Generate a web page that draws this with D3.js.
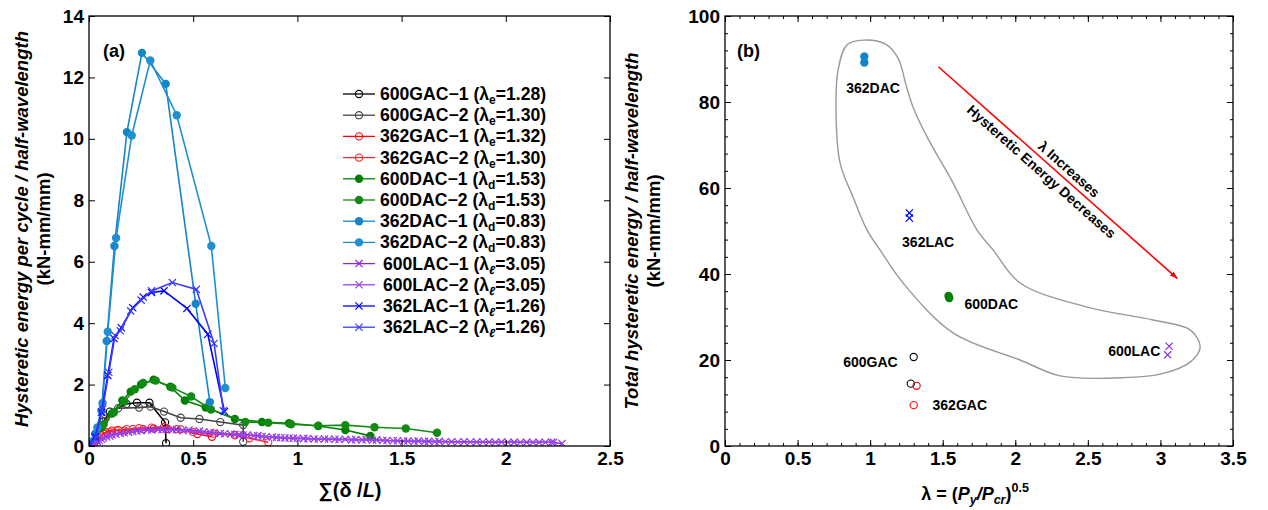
<!DOCTYPE html>
<html>
<head>
<meta charset="utf-8">
<script src="https://cdn.jsdelivr.net/npm/d3@7"></script>
<style>
    body { margin: 0; background: #fff; }
    text { font-family: "Liberation Sans", Arial, sans-serif; font-weight: bold; fill: #000; }
</style>
</head>
<body>
<svg id="chart" width="1268" height="510"></svg>
<script>
// ---- panel (a) data: [sum(delta/L), energy per cycle] ----
const gac600_1 = [[0,0],[0.03,0.2],[0.07,0.8],[0.1,1.12],[0.18,1.37],[0.23,1.41],[0.29,1.41],[0.365,0.77],[0.37,0.09]];
const gac600_2 = [[0,0],[0.04,0.3],[0.08,0.9],[0.14,1.23],[0.24,1.25],[0.295,1.28],[0.36,1.12],[0.44,0.92],[0.53,0.88],[0.63,0.78],[0.74,0.68],[0.74,0.14]];
const gac362_1 = [[0,0],[0.03,0.15],[0.06,0.35],[0.08,0.45],[0.11,0.5],[0.14,0.52],[0.17,0.5],[0.21,0.55],[0.26,0.55],[0.31,0.57],[0.38,0.55],[0.44,0.54],[0.52,0.39],[0.59,0.3]];
const gac362_2 = [[0,0],[0.04,0.2],[0.07,0.4],[0.1,0.45],[0.13,0.5],[0.18,0.55],[0.24,0.58],[0.3,0.6],[0.36,0.62],[0.42,0.55],[0.5,0.45],[0.6,0.4],[0.7,0.35],[0.77,0.25],[0.86,0.12]];
const dac600_1 = [[0,0],[0.03,0.2],[0.06,0.6],[0.11,1.06],[0.16,1.48],[0.2,1.77],[0.25,2.0],[0.31,2.16],[0.39,1.93],[0.46,1.48],[0.56,1.25],[0.7,0.88],[0.83,0.78],[0.96,0.74],[1.1,0.65],[1.23,0.52],[1.35,0.33]];
const dac600_2 = [[0,0],[0.03,0.15],[0.07,0.7],[0.12,1.1],[0.17,1.45],[0.22,1.85],[0.26,2.05],[0.32,2.13],[0.4,1.9],[0.49,1.61],[0.585,1.19],[0.75,0.78],[0.86,0.76],[0.97,0.71],[1.1,0.66],[1.23,0.68],[1.37,0.61],[1.52,0.57],[1.67,0.43]];
const dac362_1 = [[0,0],[0.01,0.1],[0.03,0.4],[0.06,1.15],[0.085,3.42],[0.122,6.51],[0.182,10.22],[0.254,12.8],[0.368,11.79],[0.512,4.63],[0.58,1.43]];
const dac362_2 = [[0,0],[0.015,0.15],[0.04,0.6],[0.065,1.4],[0.09,3.72],[0.13,6.77],[0.205,10.11],[0.294,12.55],[0.421,10.77],[0.587,6.51],[0.654,1.89]];
const lac600_1 = [[0,0],[0.02,0.05],[0.04,0.15],[0.06,0.22],[0.085,0.3],[0.11,0.36],[0.15,0.41],[0.19,0.45],[0.23,0.49],[0.28,0.52],[0.33,0.54],[0.37,0.55],[0.42,0.54],[0.48,0.52],[0.53,0.49],[0.58,0.45],[0.63,0.41],[0.68,0.39],[0.72,0.37],[0.76,0.36],[0.81,0.33],[0.85,0.3],[0.9,0.28],[0.94,0.26],[0.98,0.25],[1.03,0.24],[1.08,0.23],[1.13,0.23],[1.18,0.22],[1.23,0.22],[1.28,0.21],[1.33,0.21],[1.38,0.2],[1.43,0.18],[1.48,0.17],[1.53,0.16],[1.58,0.16],[1.63,0.15],[1.68,0.15],[1.74,0.14],[1.8,0.14],[1.86,0.13],[1.92,0.13],[1.98,0.13],[2.04,0.12],[2.1,0.12],[2.16,0.12],[2.22,0.12],[2.27,0.08]];
const lac600_2 = [[0,0],[0.03,0.08],[0.05,0.18],[0.07,0.25],[0.1,0.32],[0.13,0.38],[0.17,0.43],[0.21,0.47],[0.25,0.5],[0.3,0.52],[0.35,0.53],[0.4,0.52],[0.45,0.5],[0.5,0.48],[0.55,0.46],[0.6,0.43],[0.65,0.4],[0.7,0.38],[0.74,0.36],[0.79,0.34],[0.83,0.31],[0.88,0.29],[0.92,0.27],[0.96,0.26],[1.0,0.25],[1.05,0.24],[1.1,0.22],[1.15,0.22],[1.2,0.21],[1.26,0.2],[1.31,0.2],[1.36,0.19],[1.41,0.18],[1.46,0.17],[1.51,0.16],[1.56,0.15],[1.61,0.15],[1.66,0.14],[1.71,0.14],[1.77,0.13],[1.83,0.13],[1.89,0.13],[1.95,0.12],[2.01,0.12],[2.07,0.12],[2.13,0.12],[2.19,0.12],[2.23,0.12]];
const lac362_1 = [[0,0],[0.03,0.3],[0.06,1.1],[0.09,2.3],[0.12,3.5],[0.155,3.85],[0.21,4.5],[0.26,4.85],[0.3,5.0],[0.36,5.05],[0.47,4.48],[0.57,3.64],[0.65,1.12]];
const lac362_2 = [[0,0],[0.03,0.25],[0.065,1.2],[0.095,2.4],[0.125,3.6],[0.15,3.75],[0.2,4.4],[0.25,4.75],[0.3,5.05],[0.4,5.32],[0.515,5.1],[0.6,3.34],[0.645,1.15]];

const seriesNames = ["600GAC\u22121", "600GAC\u22122", "362GAC\u22121", "362GAC\u22122", "600DAC\u22121", "600DAC\u22122",
    "362DAC\u22121", "362DAC\u22122", "600LAC\u22121", "600LAC\u22122", "362LAC\u22121", "362LAC\u22122"];
const seriesLambdaSub = ["e", "e", "e", "e", "d", "d", "d", "d", "\u2113", "\u2113", "\u2113", "\u2113"];
const seriesLambda = ["1.28", "1.30", "1.32", "1.30", "1.53", "1.53", "0.83", "0.83", "3.05", "3.05", "1.26", "1.26"];
const seriesData = [gac600_1, gac600_2, gac362_1, gac362_2, dac600_1, dac600_2, dac362_1, dac362_2, lac600_1, lac600_2, lac362_1, lac362_2];
const seriesColors = ["#000000", "#444444", "#ff0000", "#ff2a2a", "#008000", "#138a13", "#1485c8", "#1f8fd2", "#8a2be2", "#9a45ea", "#0000ff", "#3a3aff"];
const seriesMarkers = ["o", "o", "o", "o", "d", "d", "d", "d", "x", "x", "x", "x"];

const xTicksA = [0, 0.5, 1, 1.5, 2, 2.5];
const yTicksA = [0, 2, 4, 6, 8, 10, 12, 14];

// ---- panel (b) data: [lambda, total energy] ----
const groupNames = ["362DAC", "362LAC", "600DAC", "600LAC", "600GAC", "362GAC"];
const groupPoints = [
    [[0.96, 90.6], [0.96, 89.2]],
    [[1.27, 54.2], [1.27, 53.0]],
    [[1.54, 34.9], [1.545, 34.4]],
    [[3.06, 23.2], [3.05, 21.2]],
    [[1.3, 20.7], [1.28, 14.5]],
    [[1.32, 14.0], [1.3, 9.5]]
];
const groupColors = ["#1485c8", "#0000ff", "#008000", "#8a2be2", "#000000", "#ff0000"];
const groupMarkers = ["d", "x", "d", "x", "o", "o"];
const groupLabelPos = [[1.02, 82.1], [1.22, 46.3], [1.65, 31.9], [2.64, 20.9], [1.19, 18.4], [1.43, 8.4]];
const groupLabelAnchor = ["middle", "start", "start", "start", "end", "start"];

const xTicksB = [0, 0.5, 1, 1.5, 2, 2.5, 3, 3.5];
const yTicksB = [0, 20, 40, 60, 80, 100];

// grey envelope drawn around the groups
const envelope = [[0.951,94.4],[1.103,93.5],[1.192,90.2],[1.247,84.0],[1.296,78.8],[1.392,71.9],[1.571,61.2],[1.737,50.2],
    [1.847,45.6],[2.033,37.9],[2.495,32.3],[2.95,29.3],[3.205,27.0],[3.274,23.0],[3.205,19.5],[2.998,16.7],[2.674,15.8],
    [2.309,16.3],[2.033,20.0],[1.571,26.3],[1.227,37.9],[1.068,45.6],[0.979,50.2],[0.882,57.9],[0.793,65.8],[0.765,77.4],
    [0.779,87.4],[0.841,93.3]];
const arrowFrom = [1.47, 88.2];
const arrowTo = [3.115, 39.0];

const svg = d3.select("#chart");

function drawMarker(g, type, x, y, color) {
    if (type === "o") {
        g.append("circle").attr("cx", x).attr("cy", y).attr("r", 3.6)
            .attr("fill", "none").attr("stroke", color).attr("stroke-width", 1.1);
    } else if (type === "d") {
        g.append("circle").attr("cx", x).attr("cy", y).attr("r", 4.2).attr("fill", color);
    } else {
        const s = 3.6;
        g.append("path")
            .attr("d", `M${x - s},${y - s}L${x + s},${y + s}M${x - s},${y + s}L${x + s},${y - s}`)
            .attr("stroke", color).attr("stroke-width", 1.2).attr("fill", "none");
    }
}

function frame(x_scale, y_scale, xTicks, yTicks, xMinor, yMinor) {
    const [x0, x1] = x_scale.range();
    const [y1, y0] = y_scale.range();
    const g = svg.append("g");
    const fmt = d => d3.format("")(d);

    const bottom = d3.axisBottom(x_scale).tickValues(xTicks).tickFormat(fmt).tickSizeInner(-6).tickSizeOuter(0).tickPadding(6);
    const left = d3.axisLeft(y_scale).tickValues(yTicks).tickFormat(fmt).tickSizeInner(-6).tickSizeOuter(0).tickPadding(5);
    const top = d3.axisTop(x_scale).tickValues(xTicks).tickFormat("").tickSizeInner(-6).tickSizeOuter(0);
    const right = d3.axisRight(y_scale).tickValues(yTicks).tickFormat("").tickSizeInner(-6).tickSizeOuter(0);

    const axes = [
        g.append("g").attr("transform", `translate(0,${y1})`).call(bottom),
        g.append("g").attr("transform", `translate(${x0},0)`).call(left),
        g.append("g").attr("transform", `translate(0,${y0})`).call(top),
        g.append("g").attr("transform", `translate(${x1},0)`).call(right)
    ];
    if (xMinor) {
        axes.push(g.append("g").attr("transform", `translate(0,${y1})`)
            .call(d3.axisBottom(x_scale).tickValues(xMinor).tickFormat("").tickSizeInner(-3).tickSizeOuter(0)));
        axes.push(g.append("g").attr("transform", `translate(0,${y0})`)
            .call(d3.axisTop(x_scale).tickValues(xMinor).tickFormat("").tickSizeInner(-3).tickSizeOuter(0)));
    }
    if (yMinor) {
        axes.push(g.append("g").attr("transform", `translate(${x0},0)`)
            .call(d3.axisLeft(y_scale).tickValues(yMinor).tickFormat("").tickSizeInner(-3).tickSizeOuter(0)));
        axes.push(g.append("g").attr("transform", `translate(${x1},0)`)
            .call(d3.axisRight(y_scale).tickValues(yMinor).tickFormat("").tickSizeInner(-3).tickSizeOuter(0)));
    }
    axes.forEach(a => {
        a.select(".domain").remove();
        a.selectAll(".tick line").attr("stroke", "#000").attr("stroke-width", 1);
        a.selectAll(".tick text").style("font-size", "19px").style("font-weight", "bold")
            .style("font-family", '"Liberation Sans", Arial, sans-serif').attr("fill", "#000");
    });
    g.append("rect").attr("x", x0).attr("y", y0).attr("width", x1 - x0).attr("height", y1 - y0)
        .attr("fill", "none").attr("stroke", "#000").attr("stroke-width", 1.3);
}

// ================= panel (a) =================
const xA = d3.scaleLinear().domain([0, 2.5]).range([89, 610]);
const yA = d3.scaleLinear().domain([0, 14]).range([446, 16]);

svg.append("clipPath").attr("id", "clipA")
    .append("rect").attr("x", 89).attr("y", 16).attr("width", 521).attr("height", 430);
const plotA = svg.append("g").attr("clip-path", "url(#clipA)");
const line = d3.line().x(d => xA(d[0])).y(d => yA(d[1]));

seriesData.forEach((data, i) => {
    const g = plotA.append("g");
    g.append("path").attr("d", line(data)).attr("fill", "none")
        .attr("stroke", seriesColors[i]).attr("stroke-width", 1.6);
    data.forEach(d => drawMarker(g, seriesMarkers[i], xA(d[0]), yA(d[1]), seriesColors[i]));
});

frame(xA, yA, xTicksA, yTicksA, null, null);

// legend
const legend = svg.append("g");
seriesNames.forEach((name, i) => {
    const y = 94 + i * 21.2;
    legend.append("line").attr("x1", 343).attr("x2", 375).attr("y1", y).attr("y2", y)
        .attr("stroke", seriesColors[i]).attr("stroke-width", 1.3);
    drawMarker(legend, seriesMarkers[i], 359, y, seriesColors[i]);
    const t = legend.append("text").attr("x", i >= 8 ? 383 : 380).attr("y", y + 6).style("font-size", "17.6px");
    t.append("tspan").text(name + " (\u03bb");
    const sub = t.append("tspan").attr("dy", 4).style("font-size", "12px").text(seriesLambdaSub[i]);
    if (i >= 8) sub.style("font-style", "italic");
    t.append("tspan").attr("dy", -4).text("=" + seriesLambda[i] + ")");
});

svg.append("text").attr("x", 103).attr("y", 57).style("font-size", "18px").text("(a)");

// axis titles (a)
svg.append("text").attr("transform", "translate(28,229) rotate(-90)").attr("text-anchor", "middle")
    .style("font-size", "18.5px").style("font-style", "italic").text("Hysteretic energy per cycle / half-wavelength");
svg.append("text").attr("transform", "translate(50,229) rotate(-90)").attr("text-anchor", "middle")
    .style("font-size", "18.5px").text("(kN-mm/mm)");
const xtA = svg.append("text").attr("x", 350).attr("y", 497).attr("text-anchor", "middle").style("font-size", "20px");
xtA.append("tspan").text("\u2211(\u03b4 /");
xtA.append("tspan").style("font-style", "italic").text("L");
xtA.append("tspan").text(")");

// ================= panel (b) =================
const xB = d3.scaleLinear().domain([0, 3.5]).range([725, 1233]);
const yB = d3.scaleLinear().domain([0, 100]).range([446, 16]);

const curve = d3.line().x(d => xB(d[0])).y(d => yB(d[1])).curve(d3.curveCatmullRomClosed.alpha(0.5));
svg.append("path").attr("d", curve(envelope)).attr("fill", "none").attr("stroke", "#999").attr("stroke-width", 1.4);

// arrow
svg.append("defs").append("marker").attr("id", "head").attr("viewBox", "0 0 10 10")
    .attr("refX", 9).attr("refY", 5).attr("markerWidth", 5).attr("markerHeight", 5)
    .attr("markerUnits", "strokeWidth").attr("orient", "auto")
    .append("path").attr("d", "M0,1.5L10,5L0,8.5Z").attr("fill", "#ff0000");
svg.append("line").attr("x1", xB(arrowFrom[0])).attr("y1", yB(arrowFrom[1]))
    .attr("x2", xB(arrowTo[0])).attr("y2", yB(arrowTo[1]))
    .attr("stroke", "#ff0000").attr("stroke-width", 1.6).attr("marker-end", "url(#head)");

const ang = Math.atan2(yB(arrowTo[1]) - yB(arrowFrom[1]), xB(arrowTo[0]) - xB(arrowFrom[0])) * 180 / Math.PI;
const mid = t => [xB(arrowFrom[0]) + t * (xB(arrowTo[0]) - xB(arrowFrom[0])), yB(arrowFrom[1]) + t * (yB(arrowTo[1]) - yB(arrowFrom[1]))];
const m1 = mid(0.52), m2 = mid(0.46);
svg.append("text").attr("transform", `translate(${m1[0]},${m1[1]}) rotate(${ang})`).attr("y", -5)
    .attr("text-anchor", "middle").style("font-size", "14px").text("\u03bb Increases");
svg.append("text").attr("transform", `translate(${m2[0]},${m2[1]}) rotate(${ang})`).attr("y", 15)
    .attr("text-anchor", "middle").style("font-size", "14px").text("Hysteretic Energy Decreases");

groupPoints.forEach((pts, i) => {
    const g = svg.append("g");
    pts.forEach(d => drawMarker(g, groupMarkers[i], xB(d[0]), yB(d[1]), groupColors[i]));
    svg.append("text").attr("x", xB(groupLabelPos[i][0])).attr("y", yB(groupLabelPos[i][1]))
        .attr("text-anchor", groupLabelAnchor[i]).style("font-size", "14px").text(groupNames[i]);
});

frame(xB, yB, xTicksB, yTicksB, d3.range(0, 3.51, 0.1), d3.range(0, 100.1, 4));

svg.append("text").attr("x", 737).attr("y", 57).style("font-size", "18px").text("(b)");

svg.append("text").attr("transform", "translate(638,231) rotate(-90)").attr("text-anchor", "middle")
    .style("font-size", "18.5px").style("font-style", "italic").text("Total hysteretic energy / half-wavelength");
svg.append("text").attr("transform", "translate(660,231) rotate(-90)").attr("text-anchor", "middle")
    .style("font-size", "18.5px").text("(kN-mm/mm)");

const xtB = svg.append("text").attr("x", 975).attr("y", 500).attr("text-anchor", "middle").style("font-size", "18px");
xtB.append("tspan").text("\u03bb = (");
xtB.append("tspan").style("font-style", "italic").text("P");
xtB.append("tspan").attr("dy", 4).style("font-size", "12.5px").style("font-style", "italic").text("y");
xtB.append("tspan").attr("dy", -4).style("font-style", "italic").text("/P");
xtB.append("tspan").attr("dy", 4).style("font-size", "12.5px").style("font-style", "italic").text("cr");
xtB.append("tspan").attr("dy", -4).text(")");
xtB.append("tspan").attr("dy", -8).style("font-size", "12.5px").text("0.5");
</script>
</body>
</html>
